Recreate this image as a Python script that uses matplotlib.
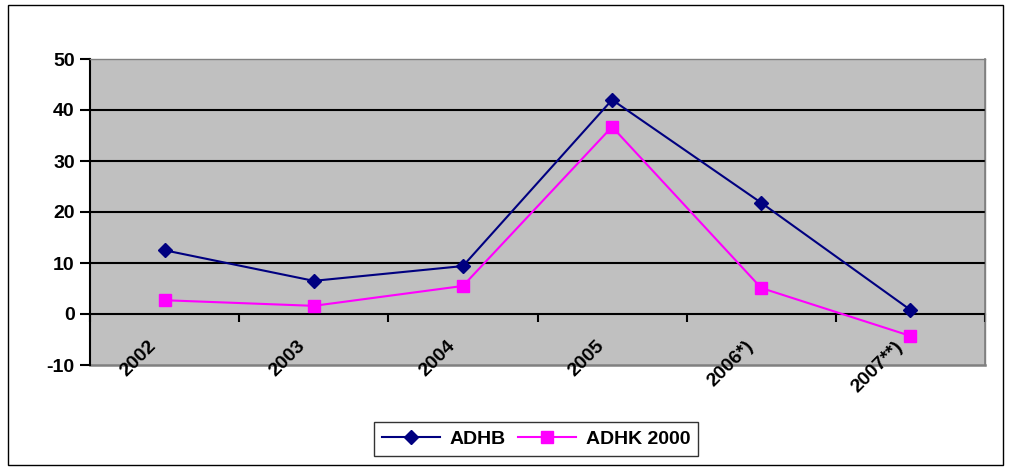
import matplotlib
matplotlib.use("Agg")
import matplotlib.pyplot as plt
from matplotlib.patches import Rectangle

years = ["2002", "2003", "2004", "2005", "2006*)", "2007**)"]
adhb = [12.5, 6.5, 9.4, 42.0, 21.8, 0.8]
adhk = [2.7, 1.6, 5.5, 36.7, 5.1, -4.3]

plt.rcParams["font.family"] = ["Liberation Sans", "DejaVu Sans"]
plt.rcParams["font.weight"] = "bold"
plt.rcParams["axes.unicode_minus"] = False

fig = plt.figure(figsize=(10.11, 4.70), dpi=100)
W, H = 1011, 470

# outer chart frame
fig.patches.append(Rectangle((8 / W, 5 / H), (1003 - 8) / W, (465 - 5) / H,
                             transform=fig.transFigure, fill=False,
                             edgecolor="black", linewidth=1.0))

ax = fig.add_axes([90 / W, (H - 365) / H, (985 - 90) / W, (365 - 59) / H])
ax.set_facecolor("#C0C0C0")

x = list(range(len(years)))
ax.plot(x, adhb, color="#000080", linewidth=1.5, marker="D", markersize=7,
        label="ADHB", zorder=4)
ax.plot(x, adhk, color="#FF00FF", linewidth=1.5, marker="s", markersize=8,
        label="ADHK 2000", zorder=3)

ax.set_xlim(-0.5, len(years) - 0.5)
ax.set_ylim(-10, 50)
ax.set_yticks(range(-10, 51, 10))
for v in range(10, 50, 10):
    ax.axhline(v, color="black", linewidth=1.5, zorder=1)

for side in ("top", "right"):
    ax.spines[side].set_color("#808080")
    ax.spines[side].set_linewidth(1.0)
ax.spines["left"].set_color("black")
ax.spines["left"].set_linewidth(1.5)
ax.spines["bottom"].set_position(("data", 0))
ax.spines["bottom"].set_color("black")
ax.spines["bottom"].set_linewidth(1.5)
ax.spines["bottom"].set_zorder(2)

# frame edge along the bottom of the plot area
ax.plot([0, 1], [0, 0], transform=ax.transAxes, color="#808080",
        linewidth=1.8, zorder=0.5, clip_on=False)
ax.plot([1, 1], [0, 1], transform=ax.transAxes, color="#808080",
        linewidth=1.2, zorder=0.5, clip_on=False)

ax.tick_params(axis="y", direction="out", length=7, width=1.5,
               labelsize=14, pad=4)
for lab in ax.get_yticklabels():
    lab.set_fontweight("bold")

ax.set_xticks([i + 0.5 for i in range(-1, len(years))], minor=True)
ax.set_xticks(x)
ax.set_xticklabels([])
ax.tick_params(axis="x", which="minor", direction="out", length=6, width=1.5)
ax.tick_params(axis="x", which="major", length=0)

for i, lab in enumerate(years):
    ax.annotate(lab, xy=(i, 0), xytext=(-12, -17), textcoords="offset points",
                rotation=45, ha="right", va="top", rotation_mode="anchor",
                fontsize=14, fontweight="bold", annotation_clip=False)

leg = fig.legend(loc="center", bbox_to_anchor=(536 / W, (H - 439) / H),
                 ncol=2, frameon=True, fancybox=False, edgecolor="black",
                 fontsize=14, handlelength=3.0, columnspacing=0.6,
                 handletextpad=0.5, borderpad=0.4)
leg.get_frame().set_linewidth(1.0)
for t in leg.get_texts():
    t.set_fontweight("bold")

fig.savefig("out.png", dpi=100)
